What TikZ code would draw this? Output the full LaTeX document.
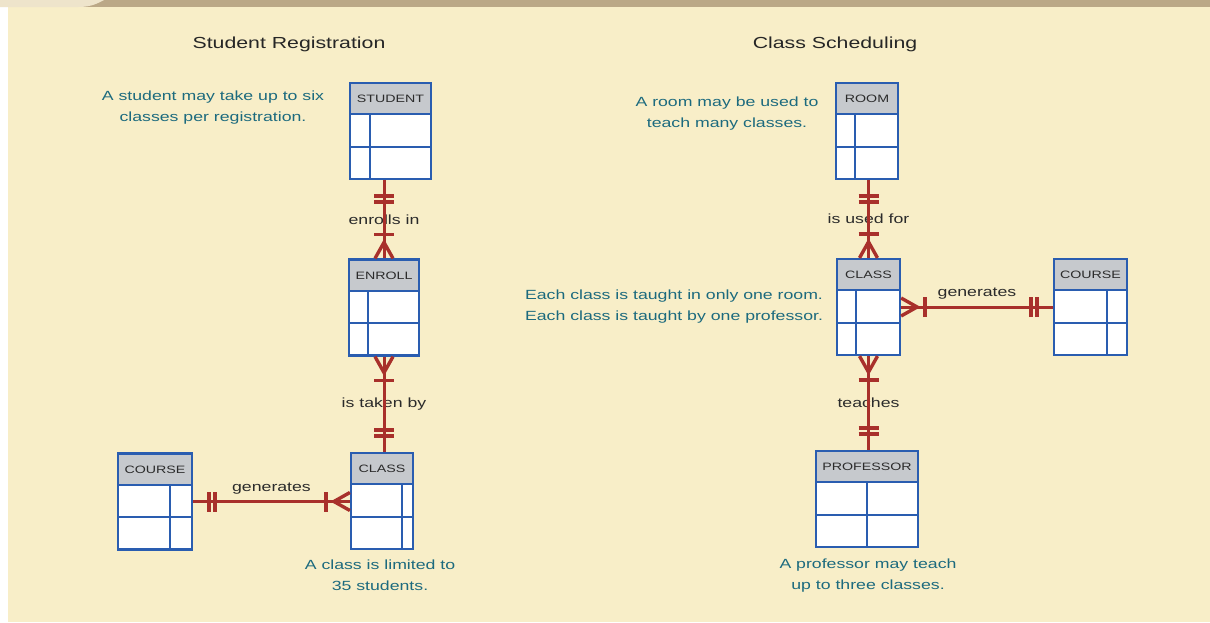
\documentclass[tikz,border=0pt]{standalone}
\usepackage{xcolor}
\usepackage{fontspec}
\setmainfont[FakeStretch=1.33]{Liberation Sans}
\usepackage{tikz}
\usetikzlibrary{decorations.markings}

\definecolor{cream}{HTML}{F8EEC8}
\definecolor{bandtan}{HTML}{BBA887}
\definecolor{tablight}{HTML}{EEE4CB}
\definecolor{erblue}{HTML}{2A5DB0}
\definecolor{hdrgray}{HTML}{C6C9CD}
\definecolor{erred}{HTML}{A8302B}
\definecolor{noteteal}{HTML}{1C6A7E}
\definecolor{lbltext}{HTML}{2B2B2B}

\newcommand{\erdiv}{20pt}

\begin{document}
\begin{tikzpicture}[x=1pt, y=1pt,
		entity/.style={rectangle, draw=erblue, line width=2.2pt, fill=white, inner sep=0pt,
			minimum height=96pt, text height=19.5pt, text depth=76.5pt,
			font=\fontsize{10.7}{12}\selectfont, text=lbltext,
			path picture={
				\fill[hdrgray] (path picture bounding box.north west) rectangle ([yshift=-31pt]path picture bounding box.north east);
				\draw[erblue, line width=2pt]
					([yshift=-31pt]path picture bounding box.north west) -- ([yshift=-31pt]path picture bounding box.north east)
					([yshift=-63.5pt]path picture bounding box.north west) -- ([yshift=-63.5pt]path picture bounding box.north east)
					([yshift=-31pt, xshift=\erdiv]path picture bounding box.north west) -- ([xshift=\erdiv]path picture bounding box.south west);
			}},
		rowsplit/.code={\renewcommand{\erdiv}{#1}},
		rel/.style={draw=erred, line width=3pt},
		barmark/.style={draw=erred, line width=3.4pt},
		rellabel/.style={font=\fontsize{13.3}{16}\selectfont, text=lbltext, inner sep=1pt},
		note/.style={font=\fontsize{13.3}{21}\selectfont, text=noteteal, align=center},
		title/.style={font=\fontsize{16}{19}\selectfont, text=black!85},
		one start/.style={postaction={decorate, decoration={markings,
			mark=at position 16pt with {\draw[barmark] (0,-10pt) -- (0,10pt);},
			mark=at position 22pt with {\draw[barmark] (0,-10pt) -- (0,10pt);}}}},
		one end/.style={postaction={decorate, decoration={markings,
			mark=at position -22pt with {\draw[barmark] (0,-10pt) -- (0,10pt);},
			mark=at position -16pt with {\draw[barmark] (0,-10pt) -- (0,10pt);}}}},
		many start/.style={postaction={decorate, decoration={markings,
			mark=at position 16pt with {\draw[barmark] (-16pt,-9pt) -- (0,0) -- (-16pt,9pt);},
			mark=at position 24pt with {\draw[barmark] (0,-10pt) -- (0,10pt);}}}},
		many end/.style={postaction={decorate, decoration={markings,
			mark=at position -24pt with {\draw[barmark] (0,-10pt) -- (0,10pt);},
			mark=at position -16pt with {\draw[barmark] (16pt,-9pt) -- (0,0) -- (16pt,9pt);}}}}
	]
		\useasboundingbox (0,0) rectangle (1210,-622);
		% Page
		\fill[cream] (8,0) rectangle (1210,-622);
		\fill[white] (0,-7) rectangle (8,-622);
		\fill[bandtan] (0,0) rectangle (1210,-7);
		\fill[tablight] (0,0) -- (0,-7) -- (78,-7) .. controls (92,-7) and (98,-3) .. (104,0) -- cycle;
		
		% Titles
		\node[title] (titlereg) at (289,-44) {Student Registration};
		\node[title] (titlesched) at (835,-44) {Class Scheduling};
		
		% Student Registration
		\node[entity, minimum width=81pt, rowsplit=20pt] (student) at (390.5,-131) {STUDENT};
		\node[entity, minimum width=70pt, rowsplit=19pt] (enroll) at (384,-307.5) {ENROLL};
		\node[entity, minimum width=62pt, rowsplit=51pt] (classa) at (382,-501) {CLASS};
		\node[entity, minimum width=74pt, rowsplit=52pt] (coursea) at (155,-501.5) {COURSE};
		
		% Class Scheduling
		\node[entity, minimum width=62pt, rowsplit=19pt] (room) at (867,-131) {ROOM};
		\node[entity, minimum width=63pt, rowsplit=19pt] (classb) at (868.5,-307) {CLASS};
		\node[entity, minimum width=73pt, rowsplit=53pt] (courseb) at (1090.5,-307) {COURSE};
		\node[entity, minimum width=102pt, rowsplit=51pt] (prof) at (867,-499) {PROFESSOR};
		
		% Relationships
		\draw[rel, one start, many end] (enroll.north |- student.south) -- node[rellabel, behind path] (enrollsin) {enrolls in} (enroll.north);
		\draw[rel, many start, one end] (enroll.south) -- node[rellabel, behind path] (takenby) {is taken by} (enroll.south |- classa.north);
		\draw[rel, one start, many end] (coursea.east) -- node[rellabel, behind path, yshift=13pt] (gena) {generates} (coursea.east -| classa.west);
		\draw[rel, one start, many end] (classb.north |- room.south) -- node[rellabel, behind path] (usedfor) {is used for} (classb.north);
		\draw[rel, many start, one end] (classb.east) -- node[rellabel, behind path, yshift=13pt] (genb) {generates} (classb.east -| courseb.west);
		\draw[rel, many start, one end] (classb.south) -- node[rellabel, behind path] (teaches) {teaches} (classb.south |- prof.north);
		
		% Notes
		\node[note] (notestudent) at (213,-107.5) {A student may take up to six\\classes per registration.};
		\node[note] (noteclass) at (380,-575.5) {A class is limited to\\35 students.};
		\node[note] (noteroom) at (727,-114) {A room may be used to\\teach many classes.};
		\node[note] (noteclassb) at (674,-306.5) {Each class is taught in only one room.\\Each class is taught by one professor.};
		\node[note] (noteprof) at (868,-575.5) {A professor may teach\\up to three classes.};
	\end{tikzpicture}
\end{document}
